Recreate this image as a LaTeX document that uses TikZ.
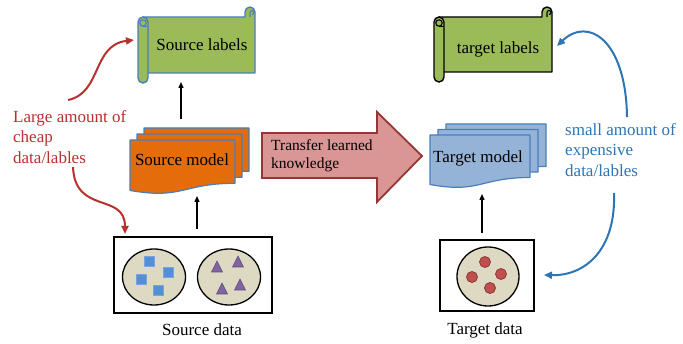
\documentclass[tikz,border=0pt]{standalone}
\usepackage{fontspec}
\setmainfont{Liberation Serif}
\usetikzlibrary{arrows.meta}

\definecolor{scrollgreen}{HTML}{9BBB59}
\definecolor{edgeblue}{HTML}{4A7EBB}
\definecolor{docorange}{HTML}{E46C0A}
\definecolor{docblue}{HTML}{95B3D7}
\definecolor{arrowfill}{HTML}{D99694}
\definecolor{arrowedge}{HTML}{953735}
\definecolor{poolfill}{HTML}{DDD9C3}
\definecolor{sqblue}{HTML}{558ED5}
\definecolor{tripurple}{HTML}{8064A2}
\definecolor{triedge}{HTML}{5F497A}
\definecolor{dotred}{HTML}{C0504D}
\definecolor{dotedge}{HTML}{8C3836}
\definecolor{notered}{HTML}{B8312F}
\definecolor{noteblue}{HTML}{2E75B6}

% horizontal scroll: #1 left, #2 top, #3 right, #4 bottom, #5 outline colour
% (y grows downwards, so an arc through 270 degrees bulges upwards)
\newcommand{\drawscroll}[5]{%
  \filldraw[fill=scrollgreen, draw=#5, line width=1.4pt, line join=round]
    (#1+5,#2+10) -- (#3-10,#2+10) -- (#3-10,#2+5)
    arc[start angle=180, end angle=360, radius=5] -- (#3,#4-10) -- (#1+5,#4-10) -- cycle;
  \draw[draw=#5, line width=1.1pt] (#3-5,#2+10) -- (#3-5,#2+5.5)
    arc[start angle=180, end angle=450, radius=2];
  \filldraw[fill=scrollgreen, draw=#5, line width=1.4pt, rounded corners=5pt]
    (#1,#2+10) rectangle (#1+10,#4);
  \draw[draw=#5, line width=1.1pt] (#1+5,#2+16) circle[radius=3.2];
  \draw[draw=#5, line width=1.1pt] (#1+5,#2+19.2) -- (#1+10,#2+19.2);
}

% document page with a wavy lower edge: #1 left, #2 top, #3 width, #4 height, #5 style
\newcommand{\drawdoc}[5]{%
  \filldraw[#5] (#1,#2) -- (#1+#3,#2) -- (#1+#3,#2+0.802*#4)
    .. controls (#1+0.5*#3,#2+0.802*#4) and (#1+0.5*#3,#2+1.107*#4) .. (#1,#2+0.934*#4)
    -- cycle;
}

\begin{document}
\begin{tikzpicture}[x=1pt, y=-1pt,
    lbl/.style={font=\fontsize{17}{20.5}\selectfont, inner sep=0pt},
    srcdoc/.style={fill=docorange, draw=edgeblue, line width=1.2pt, line join=round},
    tgtdoc/.style={fill=docblue, draw=edgeblue, line width=1.2pt, line join=round},
    databox/.style={draw=black, line width=1.4pt, fill=white, inner sep=0pt},
    pool/.style={draw=black, line width=1.3pt, fill=poolfill},
    upflow/.style={-{Triangle[length=6pt, width=5pt]}, line width=1.4pt, black},
    notearrow/.style={-{Triangle[length=8pt, width=7pt]}, line width=2pt},
    sq/.style={fill=sqblue, draw=sqblue!80!white, line width=0.4pt},
    tri/.style={fill=tripurple, draw=triedge, line width=0.6pt, line join=round},
    dot/.style={fill=dotred, draw=dotedge, line width=0.8pt}]

\useasboundingbox (0,0) rectangle (683,344);
\fill[white] (0,0) rectangle (683,344);

% ---------- label scrolls ----------
\drawscroll{138}{7}{255}{83}{edgeblue}
\node[lbl] (srclab) at (202,45) {Source labels};
\drawscroll{434}{7}{552}{82}{black}
\node[lbl] (tgtlab) at (498,49) {target labels};

% ---------- model stacks ----------
\drawdoc{144}{128}{105}{54}{srcdoc}
\drawdoc{137}{134}{105}{54}{srcdoc}
\drawdoc{130}{140}{105}{54}{srcdoc}
\node[lbl] (srcmodel) at (182,160) {Source model};

\drawdoc{446}{124}{100}{53}{tgtdoc}
\drawdoc{438}{129.5}{100}{53}{tgtdoc}
\drawdoc{430}{135}{100}{53}{tgtdoc}
\node[lbl] (tgtmodel) at (478,158) {Target model};

% ---------- transfer arrow ----------
\filldraw[fill=arrowfill, draw=arrowedge, line width=1.8pt, line join=miter]
  (262,133) -- (377,133) -- (377,112) -- (422,156) -- (377,202) -- (377,178)
  -- (262,178) -- cycle;
\node[anchor=west, align=left, inner sep=0pt,
      font=\fontsize{15.5}{18}\selectfont] (transfer) at (271,156)
  {Transfer learned\\knowledge};

% ---------- data sets ----------
\node[databox, minimum width=158pt, minimum height=76pt] (srcdata) at (193,275) {};
\filldraw[pool] (154,277) ellipse [x radius=31.5, y radius=28];
\filldraw[pool] (229,277) ellipse [x radius=31.5, y radius=28];
\foreach \cx/\cy in {149/261, 168/272, 141/279, 158/290}
  \filldraw[sq] (\cx-5,\cy-5) rectangle (\cx+5,\cy+5);
\foreach \cx/\cy in {217/267, 238/262, 222/289, 240/285}
  \filldraw[tri] (\cx-5.5,\cy+5) -- (\cx+5.5,\cy+5) -- (\cx,\cy-6) -- cycle;
\node[lbl] (srcdatalab) at (202,330) {Source data};

\node[databox, minimum width=94pt, minimum height=71pt] (tgtdata) at (487,275.5) {};
\filldraw[pool] (488,276.5) ellipse [x radius=31, y radius=29.5];
\foreach \cx/\cy in {485/262, 472/277, 501/274, 490/288}
  \filldraw[dot] (\cx,\cy) circle [radius=5.5];
\node[lbl] (tgtdatalab) at (485,330) {Target data};

% ---------- vertical flow arrows ----------
\coordinate (srcup0) at (181,119);
\coordinate (srcup1) at (181,82);
\coordinate (srcin0) at (197,229);
\coordinate (srcin1) at (197,196);
\coordinate (tgtin0) at (482,233);
\coordinate (tgtin1) at (482,194);
\draw[upflow] (srcup0) -- (srcup1);
\draw[upflow] (srcin0) -- (srcin1);
\draw[upflow] (tgtin0) -- (tgtin1);

% ---------- side notes ----------
\node[lbl, anchor=west, align=left, text=notered] (cheap) at (13,137)
  {Large amount of\\cheap\\data/lables};
\coordinate (cheapup) at (68,100);
\coordinate (cheapdn) at (73,167);
\coordinate (srclabin) at (134,40);
\coordinate (srcdatain) at (125,234);
\draw[notearrow, notered] (cheapup) .. controls (102,93) and (92,45) .. (srclabin);
\draw[notearrow, notered] (cheapdn) .. controls (75,215) and (125,192) .. (srcdatain);

\node[lbl, anchor=west, align=left, text=noteblue] (costly) at (565,150)
  {small amount of\\expensive\\data/lables};
\coordinate (costlyup) at (627,117);
\coordinate (costlydn) at (614,193);
\coordinate (tgtlabin) at (557,46);
\coordinate (tgtdatain) at (544,275);
\draw[notearrow, noteblue] (costlyup) .. controls (626,40) and (588,16) .. (tgtlabin);
\draw[notearrow, noteblue] (costlydn) .. controls (616,250) and (585,276) .. (tgtdatain);

\end{tikzpicture}
\end{document}
